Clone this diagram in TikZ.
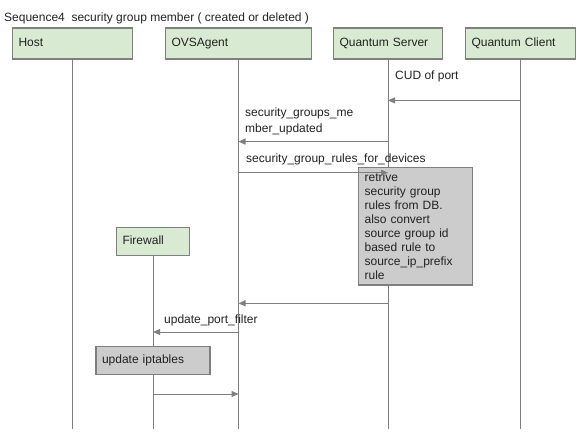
\documentclass[tikz,border=0pt]{standalone}
\usepackage{fontspec}
\setmainfont{Liberation Sans}
\usepackage{tikz}
\usetikzlibrary{arrows.meta,positioning}
\definecolor{boxgreen}{HTML}{D9EAD3}
\definecolor{boxgray}{HTML}{CCCCCC}
\definecolor{linegray}{HTML}{7F7F7F}
\definecolor{textgray}{HTML}{222222}

\begin{document}
\begin{tikzpicture}[x=1pt,y=-1pt,>={Triangle[length=7pt,width=6pt]},every node/.style={font=\fontsize{12}{14}\selectfont,text=textgray},actor/.style={draw=linegray,line width=1.2pt,fill=boxgreen,minimum height=31pt,inner xsep=6pt,text height=9pt,text depth=3pt,align=left,text width=#1},task/.style={draw=linegray,line width=1.2pt,fill=boxgray,inner xsep=6pt,align=left,text width=#1},life/.style={draw=linegray,line width=1pt},msg/.style={draw=linegray,fill=linegray,line width=1pt,->},lbl/.style={anchor=base west,inner sep=0pt}]
	\useasboundingbox (0,0) rectangle (584,441);

	\node[lbl]					(title)		at (4,22)			{Sequence4\ \ security group member ( created or deleted )};
	\node[actor=108pt]			(host)		at (72.5,43.5)		{Host};
	\node[actor=134pt]			(ovs)		at (238.5,43.5)		{OVSAgent};
	\node[actor=97pt]			(qs)		at (388,43.5)		{Quantum Server};
	\node[actor=98pt]			(qc)		at (520.5,43.5)		{Quantum Client};
	\node[actor=61pt,minimum height=28pt]	(fw)	at (153,241.7)	{Firewall};

	% lifelines
	\draw[life] (host) -- (host |- 0,429);
	\draw[life] (ovs) -- (ovs |- 0,429);
	\draw[life] (qs) -- (qs |- 0,429);
	\draw[life] (qc) -- (qc |- 0,429);
	\draw[life] (fw) -- (fw |- 0,429);

	\node[task=102pt,minimum height=117pt,anchor=north west]	(retrive)	at (358,167.3)
		{retrive\\security group\\rules from DB.\\also convert\\source group id\\based rule to\\source\_ip\_prefix\\rule};
	\node[task=102pt,minimum height=28pt,text height=9pt,text depth=3pt]	(iptables)	at (153,360.7)	{update iptables};

	% messages
	\node[lbl]					(cud)		at (395,79.5)		{CUD of port};
	\draw[msg] (qc |- 0,100.4) -- (qs |- 0,100.4);
	\node[lbl,align=left,font=\fontsize{12}{16}\selectfont]	(member)	at (245,132.5)	{security\_groups\_me\\mber\_updated};
	\draw[msg] (qs |- 0,141.6) -- (ovs |- 0,141.6);
	\node[lbl]					(rules)		at (246,162.5)		{security\_group\_rules\_for\_devices};
	\draw[msg] (ovs |- 0,172.7) -- (qs |- 0,172.7);
	\draw[msg] (qs |- 0,303.3) -- (ovs |- 0,303.3);
	\node[lbl]					(filter)	at (164,323.5)		{update\_port\_filter};
	\draw[msg] (ovs |- 0,332) -- (fw |- 0,332);
	\draw[msg] (fw |- 0,394) -- (ovs |- 0,394);
\end{tikzpicture}
\end{document}
